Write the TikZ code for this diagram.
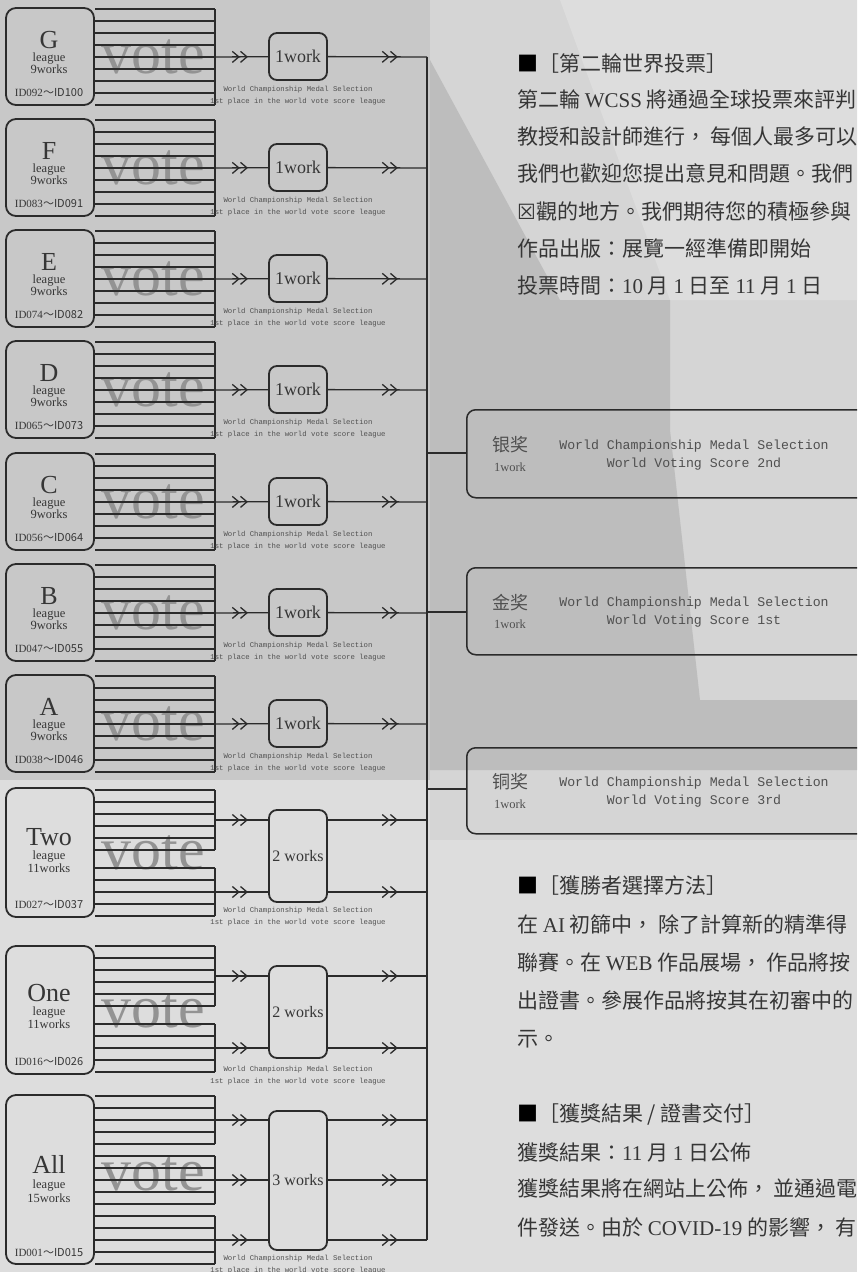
\documentclass[tikz,border=0pt]{standalone}
\usepackage{fontspec}
\setmainfont{Liberation Serif}
\setmonofont{Liberation Mono}
\newfontfamily\cjk{Noto Sans CJK TC}
\newfontfamily\djv{DejaVu Sans}
\usetikzlibrary{arrows.meta,decorations.markings}
\definecolor{ink}{HTML}{2B2B2B}
\definecolor{txt}{HTML}{363636}
\definecolor{lbl}{HTML}{505050}
\definecolor{votegray}{HTML}{939393}
\definecolor{bgbase}{HTML}{D5D5D5}
\definecolor{bgmid}{HTML}{C8C8C8}
\definecolor{bgdark}{HTML}{BDBDBD}
\definecolor{bglight}{HTML}{DDDDDD}
\newcommand\latn[1]{{\rmfamily #1}}
\tikzset{
  ln/.style={draw=ink, line width=1.3pt},
  lbox/.style={draw=ink, line width=1.8pt, rounded corners=10pt, minimum width=88pt, inner sep=0pt},
  wbox/.style={draw=ink, line width=1.8pt, rounded corners=8pt, minimum width=58pt, inner sep=0pt, text=txt},
  mbox/.style={draw=ink, line width=1.5pt, rounded corners=9pt, inner sep=0pt},
  votetxt/.style={anchor=base, text=votegray, font=\fontsize{60}{60}\selectfont, inner sep=0pt},
  bigl/.style={anchor=base, text=txt, font=\fontsize{26}{26}\selectfont, inner sep=0pt},
  smalll/.style={anchor=base, text=txt, font=\fontsize{12.5}{12.5}\selectfont, inner sep=0pt},
  idl/.style={anchor=base, text=txt, font=\fontsize{11}{11}\selectfont, inner sep=0pt},
  lab/.style={text=lbl, font=\ttfamily\fontsize{7.3}{8}\selectfont, inner sep=0pt},
  mtxt/.style={text=lbl, font=\ttfamily\fontsize{13.2}{14}\selectfont, inner sep=0pt},
  mcjk/.style={text=lbl, font=\cjk\fontsize{18}{18}\selectfont, inner sep=0pt},
  mwork/.style={text=lbl, font=\fontsize{12.5}{12.5}\selectfont, inner sep=0pt},
  body/.style={anchor=base west, text=txt, font=\cjk\fontsize{21}{21}\selectfont, inner sep=0pt},
  midarr/.style={postaction={decorate, decoration={markings,
     mark=at position #1 with {\arrow{Straight Barb[length=6.5pt,width=11pt,line width=1.3pt] Straight Barb[length=6.5pt,width=11pt,line width=1.3pt]}}}}}
}
\begin{document}
\begin{tikzpicture}[x=1pt,y=-1pt]
\useasboundingbox (0,0) rectangle (857,1272);
\clip (0,0) rectangle (857,1272);
% background
\fill[bgbase] (0,0) rectangle (857,1272);
\fill[bgmid] (0,0) rectangle (430,780);
\fill[bglight] (560,0) -- (857,0) -- (857,300) -- (670,300) -- cycle;
\fill[bgdark] (430,60) -- (560,300) -- (670,300) -- (670,430) -- (700,700) -- (857,700) -- (857,770) -- (430,770) -- cycle;
\fill[bglight] (0,780) rectangle (430,1272);
\fill[bglight] (430,840) rectangle (857,1272);

% ---- 9-work leagues
\foreach \nm/\cy/\ia/\ib in {G/57/092/100, F/168/083/091, E/279/074/082, D/390/065/073, C/502/056/064, B/613/047/055, A/724/038/046}{
  \node[votetxt] (vote\nm) at (153.5,\cy+16) {vote};
  \foreach \k in {0,...,8}{ \draw[ln] (95,\cy-48+12*\k) -- (215,\cy-48+12*\k); }
  \draw[ln] (215,\cy-48) -- (215,\cy+48);
  \node[lbox, minimum height=97pt] (L\nm) at (50,\cy-0.5) {};
  \node[bigl] (Ll\nm) at (49,\cy-9) {\nm};
  \node[smalll] (Lg\nm) at (49,\cy+4) {league};
  \node[smalll] (Lw\nm) at (49,\cy+16) {9works};
  \node[idl] (Li\nm) at (49,\cy+39) {ID\ia\cjk{～}ID\ib};
  \node[wbox, minimum height=47pt, font=\fontsize{18}{18}\selectfont] (W\nm) at (298,\cy-0.5) {1work};
  \coordinate (in\nm) at (215,\cy);
  \coordinate (out\nm) at (427,\cy);
  \draw[ln, midarr=33pt] (in\nm) -- (W\nm);
  \draw[ln, midarr=70pt] (W\nm) -- (out\nm);
  \node[lab] (la\nm) at (298,\cy+33) {World Championship Medal Selection};
  \node[lab] (lb\nm) at (298,\cy+45) {1st place in the world vote score league};
}

% ---- Two league (top 788)
\node[votetxt] (voteTwo) at (153.5,869) {vote};
\foreach \k in {0,...,5}{ \draw[ln] (95,790+12*\k) -- (215,790+12*\k); }
\foreach \k in {0,...,4}{ \draw[ln] (95,868+12*\k) -- (215,868+12*\k); }
\draw[ln] (215,790) -- (215,850);
\draw[ln] (215,868) -- (215,916);
\node[lbox, minimum height=129pt] (LTwo) at (50,852.5) {};
\node[bigl] at (49,845) {Two};
\node[smalll] at (49,859) {league};
\node[smalll] at (49,872) {11works};
\node[idl] at (49,908) {ID027\cjk{～}ID037};
\node[wbox, minimum height=92pt, font=\fontsize{16}{16}\selectfont] (WTwo) at (298,856) {2 works};
\coordinate (inTwoA) at (215,820);
\coordinate (inTwoB) at (215,892);
\coordinate (outTwoA) at (427,820);
\coordinate (outTwoB) at (427,892);
\draw[ln, midarr=33pt] (inTwoA) -- (inTwoA -| WTwo.west);
\draw[ln, midarr=33pt] (inTwoB) -- (inTwoB -| WTwo.west);
\draw[ln, midarr=70pt] (WTwo.east |- outTwoA) -- (outTwoA);
\draw[ln, midarr=70pt] (WTwo.east |- outTwoB) -- (outTwoB);
\node[lab] at (298,911) {World Championship Medal Selection};
\node[lab] at (298,923) {1st place in the world vote score league};

% ---- One league (top 946)
\node[votetxt] (voteOne) at (153.5,1027) {vote};
\foreach \k in {0,...,5}{ \draw[ln] (95,946+12*\k) -- (215,946+12*\k); }
\foreach \k in {0,...,4}{ \draw[ln] (95,1024+12*\k) -- (215,1024+12*\k); }
\draw[ln] (215,946) -- (215,1006);
\draw[ln] (215,1024) -- (215,1072);
\node[lbox, minimum height=128pt] (LOne) at (50,1010) {};
\node[bigl] at (49,1001) {One};
\node[smalll] at (49,1015) {league};
\node[smalll] at (49,1028) {11works};
\node[idl] at (49,1065) {ID016\cjk{～}ID026};
\node[wbox, minimum height=92pt, font=\fontsize{16}{16}\selectfont] (WOne) at (298,1012) {2 works};
\coordinate (inOneA) at (215,976);
\coordinate (inOneB) at (215,1048);
\coordinate (outOneA) at (427,976);
\coordinate (outOneB) at (427,1048);
\draw[ln, midarr=33pt] (inOneA) -- (inOneA -| WOne.west);
\draw[ln, midarr=33pt] (inOneB) -- (inOneB -| WOne.west);
\draw[ln, midarr=70pt] (WOne.east |- outOneA) -- (outOneA);
\draw[ln, midarr=70pt] (WOne.east |- outOneB) -- (outOneB);
\node[lab] at (298,1070) {World Championship Medal Selection};
\node[lab] at (298,1082) {1st place in the world vote score league};

% ---- All league (top 1095)
\node[votetxt] (voteAll) at (153.5,1190) {vote};
\foreach \g in {1096,1156,1216}{
  \foreach \k in {0,...,4}{ \draw[ln] (95,\g+12*\k) -- (215,\g+12*\k); }
  \draw[ln] (215,\g) -- (215,\g+48);
}
\node[lbox, minimum height=169pt] (LAll) at (50,1179.5) {};
\node[bigl] at (49,1173) {All};
\node[smalll] at (49,1188) {league};
\node[smalll] at (49,1202) {15works};
\node[idl] at (49,1256) {ID001\cjk{～}ID015};
\node[wbox, minimum height=139pt, font=\fontsize{16}{16}\selectfont] (WAll) at (298,1180.5) {3 works};
\foreach \n/\yy in {A/1120,B/1180,C/1240}{
  \coordinate (inAll\n) at (215,\yy);
  \coordinate (outAll\n) at (427,\yy);
  \draw[ln, midarr=33pt] (inAll\n) -- (inAll\n -| WAll.west);
  \draw[ln, midarr=70pt] (WAll.east |- outAll\n) -- (outAll\n);
}
\node[lab] at (298,1259) {World Championship Medal Selection};
\node[lab] at (298,1271) {1st place in the world vote score league};

% ---- bus
\draw[ln] (outG) -- (outAllC);

% ---- medal boxes
\foreach \nm/\top/\bot/\cy/\medal/\rank in {S/409/497/453/银奖/2nd, Gd/567/654/612/金奖/1st, Bz/747/833/789/铜奖/3rd}{
  \node[mbox, minimum width=414pt, minimum height={\bot-\top}, anchor=north west] (M\nm) at (466,\top) {};
  \coordinate (bus\nm) at (427,\cy);
  \draw[ln] (bus\nm) -- (bus\nm -| M\nm.west);
  \node[mcjk] at (510,{(\top+\bot)/2-8}) {\medal};
  \node[mwork] at (510,{(\top+\bot)/2+14}) {1work};
  \node[mtxt] at (694,{(\top+\bot)/2-7}) {World Championship Medal Selection};
  \node[mtxt] at (694,{(\top+\bot)/2+11}) {World Voting Score \rank};
}

% ---- right text
\node[body] (t1) at (517,71) {\textcolor{black}{■}［第二輪世界投票］};
\node[body] (t2) at (517,107) {第二輪 \latn{WCSS} 將通過全球投票來評判};
\node[body] (t3) at (517,144) {教授和設計師進行， 每個人最多可以};
\node[body] (t4) at (517,181) {我們也歡迎您提出意見和問題。我們};
\node[body] (t5) at (517,219) {{\djv ☒}觀的地方。我們期待您的積極參與};
\node[body] (t6) at (517,256) {作品出版：展覽一經準備即開始};
\node[body] (t7) at (517,293) {投票時間：\latn{10} 月 \latn{1} 日至 \latn{11} 月 \latn{1} 日};

\node[body] (u1) at (517,893) {\textcolor{black}{■}［獲勝者選擇方法］};
\node[body] (u2) at (517,932) {在 \latn{AI} 初篩中， 除了計算新的精準得};
\node[body] (u3) at (517,970) {聯賽。在 \latn{WEB} 作品展場， 作品將按};
\node[body] (u4) at (517,1008) {出證書。參展作品將按其在初審中的};
\node[body] (u5) at (517,1046) {示。};

\node[body] (v1) at (517,1121) {\textcolor{black}{■}［獲獎結果 / 證書交付］};
\node[body] (v2) at (517,1160) {獲獎結果：\latn{11} 月 \latn{1} 日公佈};
\node[body] (v3) at (517,1196) {獲獎結果將在網站上公佈， 並通過電};
\node[body] (v4) at (517,1235) {件發送。由於 \latn{COVID-19} 的影響， 有};
\end{tikzpicture}
\end{document}
